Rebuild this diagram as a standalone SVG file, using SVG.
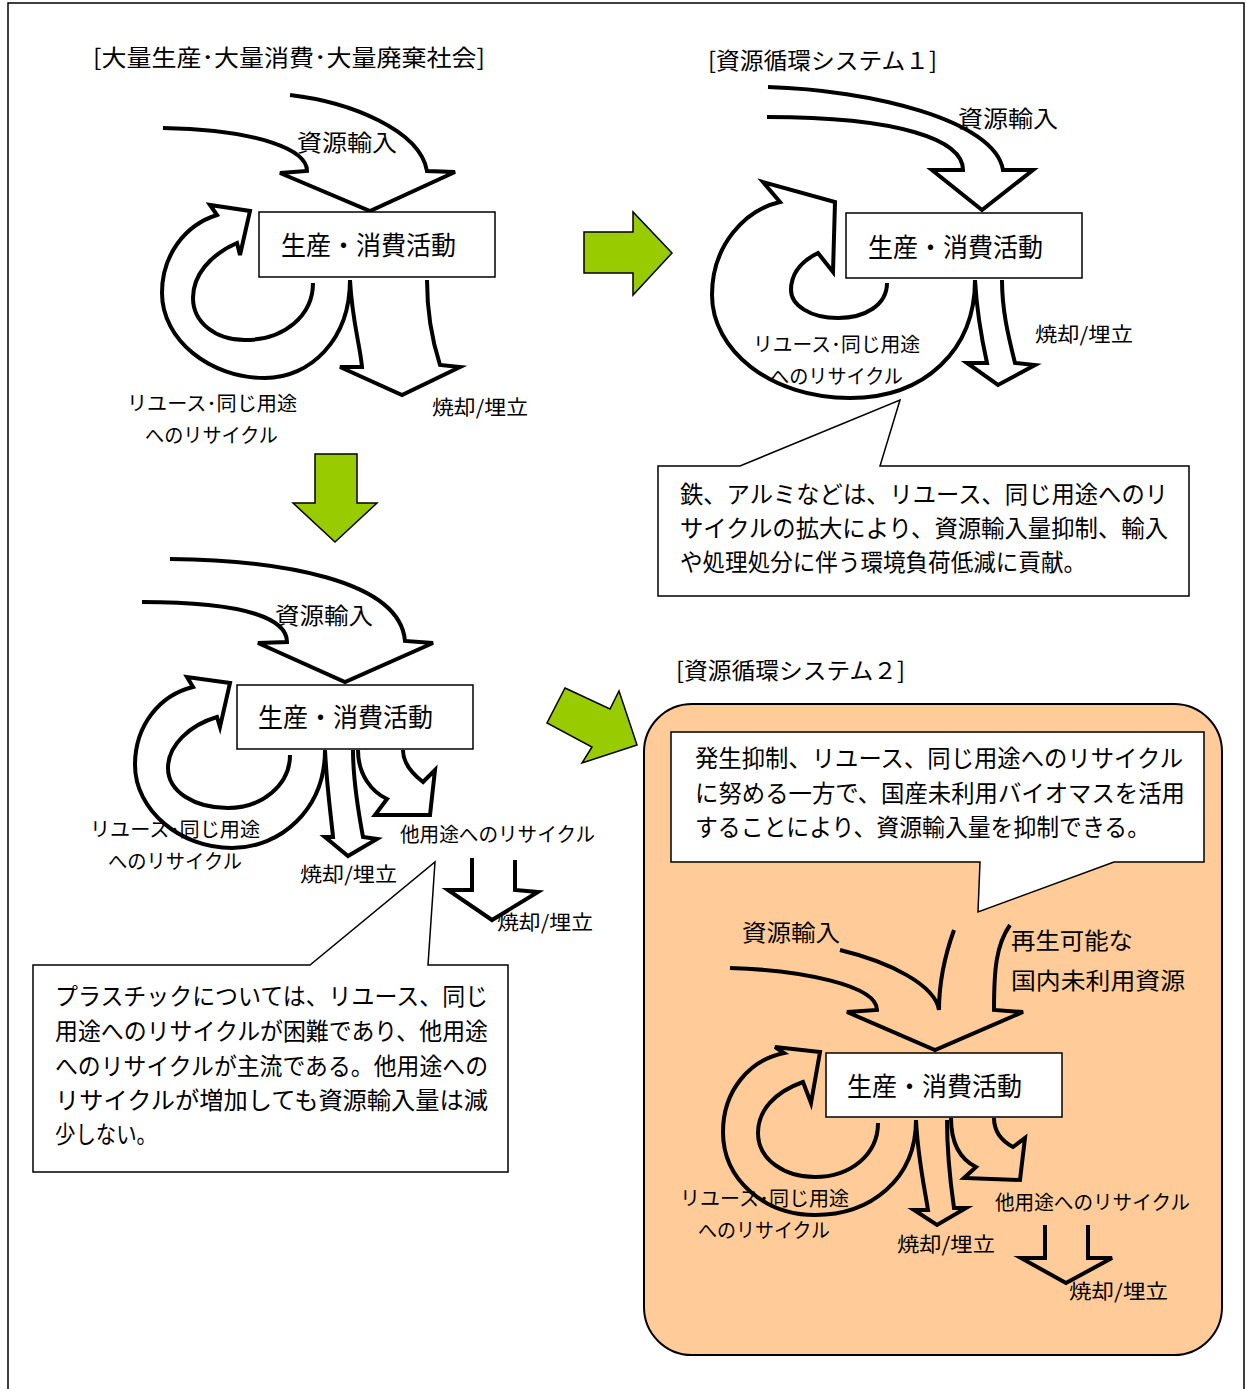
<svg xmlns="http://www.w3.org/2000/svg" width="1247" height="1389" viewBox="0 0 1247 1389">
<style>
text{font-family:"Noto Sans CJK JP","Noto Sans CJK SC",sans-serif;fill:#000}
.tt{font-size:23px}
.bt{font-size:26px}
.lb{font-size:20px}
.si{font-size:23px}
.ct{font-size:24px}
.box{fill:#fff;stroke:#000;stroke-width:1.5}
.fl{fill:#fff;stroke:#000;stroke-width:4;stroke-linejoin:miter}
.fo{fill:none;stroke:#000;stroke-width:4;stroke-linejoin:miter}
.g{fill:#99cc00;stroke:#000;stroke-width:1.5;stroke-linejoin:miter}
.co{fill:#fff;stroke:#000;stroke-width:1.5}
</style>
<rect width="1247" height="1389" fill="#fff"/>
<path d="M8,1389 V3 H1244 V1389" fill="none" stroke="#000" stroke-width="1.5"/>

<g id="panel4-bg">
<rect x="644" y="704" width="578" height="651" rx="48" fill="#ffcc99" stroke="#000" stroke-width="2"/>
</g>

<g id="titles">
<text class="tt" x="93" y="66" textLength="392" lengthAdjust="spacingAndGlyphs">[大量生産･大量消費･大量廃棄社会]</text>
<text class="tt" x="708" y="69" textLength="229" lengthAdjust="spacingAndGlyphs">[資源循環システム１]</text>
<text class="tt" x="676" y="679" textLength="229" lengthAdjust="spacingAndGlyphs">[資源循環システム２]</text>
</g>

<g id="connectors">
<!-- section 1 -->
<path class="fl" d="M290,95 C350,102 420,130 427,171 L455,172 L370,211 L280,173 L307,171 C307,150 260,130 163,128"/>
<path class="fl" d="M350,280 C350,340 310,378 265,378 C210,378 162,340 162,293 C162,255 185,225 217,215 L210,205 L250,211 L240,255 L237,243 C210,255 193,275 193,298 C193,322 215,340 245,340 C285,340 313,315 313,283"/>
<path class="fl" d="M350,280 C352,320 360,345 362,367 L340,367 L402,395 L460,367 L440,365 C432,340 427,310 427,280"/>
<!-- section 2 -->
<path class="fl" d="M768,87 C870,90 995,120 1003,170 L1033,170 L982,210 L932,170 L963,170 C963,140 900,117 767,117"/>
<path class="fl" d="M975,280 C975,350 925,398 850,398 C770,398 712,350 712,295 C712,245 745,210 780,202 L763,182 L835,202 L833,272 L818,253 C800,262 791,275 791,290 C791,305 810,318 838,318 C865,318 887,305 887,283"/>
<path class="fl" d="M975,280 C977,315 983,345 987,363 L967,363 L998,385 L1035,365 L1015,363 C1008,335 1002,310 1002,280"/>
<!-- section 3 -->
<path class="fl" d="M170,559 C280,560 400,580 405,641 L433,643 L345,682 L258,643 L287,642 C287,620 250,602 142,602"/>
<path class="fl" d="M325,750 C325,810 280,848 232,848 C180,848 135,810 135,765 C135,725 160,695 193,687 L187,677 L230,683 L220,727 L217,717 C190,725 168,745 168,768 C168,792 195,808 228,808 C262,808 290,785 290,755"/>
<path class="fl" d="M325,750 C327,790 331,815 333,837 L325,837 L348,856 L377,839 L363,837 C358,810 353,780 353,750"/>
<path class="fl" d="M358,750 C358,775 372,792 387,799 L375,815 L430,815 L435,770 L423,782 C410,772 403,762 403,750"/>
<path class="fl" d="M472,858 L472,890 L448,890 L492,920 L538,892 L515,890 L515,860"/>
<!-- section 4 -->
<path class="fo" d="M730,968 C800,970 877,985 877,1010 L847,1012 L935,1050 L1023,1012 L994,1010 C994,970 996,945 1010,925"/>
<path class="fo" d="M840,950 C890,962 935,985 939,1010 C939,985 945,955 954,930"/>
<path class="fo" d="M916,1120 C916,1180 870,1215 815,1215 C765,1215 723,1180 723,1132 C723,1090 750,1060 784,1053 L775,1047 L820,1052 L811,1103 L803,1082 C775,1092 758,1110 758,1133 C758,1160 785,1177 815,1177 C850,1177 878,1155 878,1123"/>
<path class="fo" d="M916,1120 C918,1160 925,1190 928,1210 L914,1210 L937,1225 L966,1208 L954,1208 C950,1180 947,1150 947,1120"/>
<path class="fo" d="M951,1118 C951,1145 962,1160 976,1167 L964,1178 L1020,1180 L1025,1138 L1013,1147 C1000,1140 994,1130 994,1118"/>
<path class="fo" d="M1045,1225 L1045,1258 L1021,1258 L1066,1283 L1112,1258 L1088,1258 L1088,1225"/>
<!-- green transition arrows -->
<polygon class="g" points="584,232 633,232 633,212 672,253 633,295 633,273 584,273"/>
<polygon class="g" points="315,454 357,454 357,503 377,503 335,542 293,503 315,503"/>
<polygon class="g" points="565,688 610,709 619,691 637,745 582,763 592,747 547,723"/>
</g>

<g id="box1"><rect class="box" x="259" y="212" width="236" height="65"/><text class="bt" x="281" y="255" textLength="175" lengthAdjust="spacingAndGlyphs">生産・消費活動</text></g>
<g id="box2"><rect class="box" x="846" y="213" width="236" height="65"/><text class="bt" x="868" y="257" textLength="175" lengthAdjust="spacingAndGlyphs">生産・消費活動</text></g>
<g id="box3"><rect class="box" x="237" y="685" width="236" height="64"/><text class="bt" x="258" y="727" textLength="175" lengthAdjust="spacingAndGlyphs">生産・消費活動</text></g>
<g id="box4"><rect class="box" x="826" y="1053" width="236" height="64"/><text class="bt" x="847" y="1096" textLength="175" lengthAdjust="spacingAndGlyphs">生産・消費活動</text></g>

<g id="labels1">
<text class="si" x="297" y="151" textLength="100" lengthAdjust="spacingAndGlyphs">資源輸入</text>
<text class="lb" x="127" y="411" textLength="170" lengthAdjust="spacingAndGlyphs">リユース･同じ用途</text>
<text class="lb" x="145" y="443" textLength="133" lengthAdjust="spacingAndGlyphs">へのリサイクル</text>
<text class="lb" x="432" y="415" textLength="96" lengthAdjust="spacingAndGlyphs">焼却/埋立</text>
</g>
<g id="labels2">
<text class="si" x="958" y="127" textLength="100" lengthAdjust="spacingAndGlyphs">資源輸入</text>
<text class="lb" x="753" y="352" textLength="167" lengthAdjust="spacingAndGlyphs">リユース･同じ用途</text>
<text class="lb" x="770" y="384" textLength="133" lengthAdjust="spacingAndGlyphs">へのリサイクル</text>
<text class="lb" x="1035" y="342" textLength="98" lengthAdjust="spacingAndGlyphs">焼却/埋立</text>
</g>
<g id="labels3">
<text class="si" x="275" y="624" textLength="98" lengthAdjust="spacingAndGlyphs">資源輸入</text>
<text class="lb" x="90" y="837" textLength="170" lengthAdjust="spacingAndGlyphs">リユース･同じ用途</text>
<text class="lb" x="108" y="869" textLength="134" lengthAdjust="spacingAndGlyphs">へのリサイクル</text>
<text class="lb" x="400" y="842" textLength="195" lengthAdjust="spacingAndGlyphs">他用途へのリサイクル</text>
<text class="lb" x="300" y="882" textLength="97" lengthAdjust="spacingAndGlyphs">焼却/埋立</text>
<text class="lb" x="497" y="930" textLength="96" lengthAdjust="spacingAndGlyphs">焼却/埋立</text>
</g>
<g id="labels4">
<text class="si" x="742" y="941" textLength="98" lengthAdjust="spacingAndGlyphs">資源輸入</text>
<text class="si" x="1011" y="949" textLength="122" lengthAdjust="spacingAndGlyphs">再生可能な</text>
<text class="si" x="1011" y="989" textLength="174" lengthAdjust="spacingAndGlyphs">国内未利用資源</text>
<text class="lb" x="680" y="1206" textLength="169" lengthAdjust="spacingAndGlyphs">リユース･同じ用途</text>
<text class="lb" x="698" y="1238" textLength="132" lengthAdjust="spacingAndGlyphs">へのリサイクル</text>
<text class="lb" x="995" y="1210" textLength="195" lengthAdjust="spacingAndGlyphs">他用途へのリサイクル</text>
<text class="lb" x="897" y="1252" textLength="98" lengthAdjust="spacingAndGlyphs">焼却/埋立</text>
<text class="lb" x="1069" y="1299" textLength="99" lengthAdjust="spacingAndGlyphs">焼却/埋立</text>
</g>

<g id="callout-metal">
<path class="co" d="M658,466 H740 L900,400 L880,466 H1189 V596 H658 Z"/>
<text class="ct" x="680" y="503" textLength="488" lengthAdjust="spacingAndGlyphs">鉄、アルミなどは、リユース、同じ用途へのリ</text>
<text class="ct" x="680" y="537" textLength="488" lengthAdjust="spacingAndGlyphs">サイクルの拡大により、資源輸入量抑制、輸入</text>
<text class="ct" x="680" y="571" textLength="406" lengthAdjust="spacingAndGlyphs">や処理処分に伴う環境負荷低減に貢献。</text>
</g>

<g id="callout-plastic">
<path class="co" d="M33,965 H310 L435,862 L428,965 H508 V1172 H33 Z"/>
<text class="ct" x="55" y="1005" textLength="433" lengthAdjust="spacingAndGlyphs">プラスチックについては、リユース、同じ</text>
<text class="ct" x="55" y="1040" textLength="433" lengthAdjust="spacingAndGlyphs">用途へのリサイクルが困難であり、他用途</text>
<text class="ct" x="55" y="1075" textLength="433" lengthAdjust="spacingAndGlyphs">へのリサイクルが主流である。他用途への</text>
<text class="ct" x="55" y="1109" textLength="433" lengthAdjust="spacingAndGlyphs">リサイクルが増加しても資源輸入量は減</text>
<text class="ct" x="55" y="1143" textLength="102" lengthAdjust="spacingAndGlyphs">少しない。</text>
</g>

<g id="callout-biomass">
<path class="co" d="M671,732 H1204 V862 H1114 L978,912 L980,862 H671 Z"/>
<text class="ct" x="695" y="767" textLength="488" lengthAdjust="spacingAndGlyphs">発生抑制、リユース、同じ用途へのリサイクル</text>
<text class="ct" x="695" y="802" textLength="490" lengthAdjust="spacingAndGlyphs">に努める一方で、国産未利用バイオマスを活用</text>
<text class="ct" x="695" y="836" textLength="455" lengthAdjust="spacingAndGlyphs">することにより、資源輸入量を抑制できる。</text>
</g>
</svg>
